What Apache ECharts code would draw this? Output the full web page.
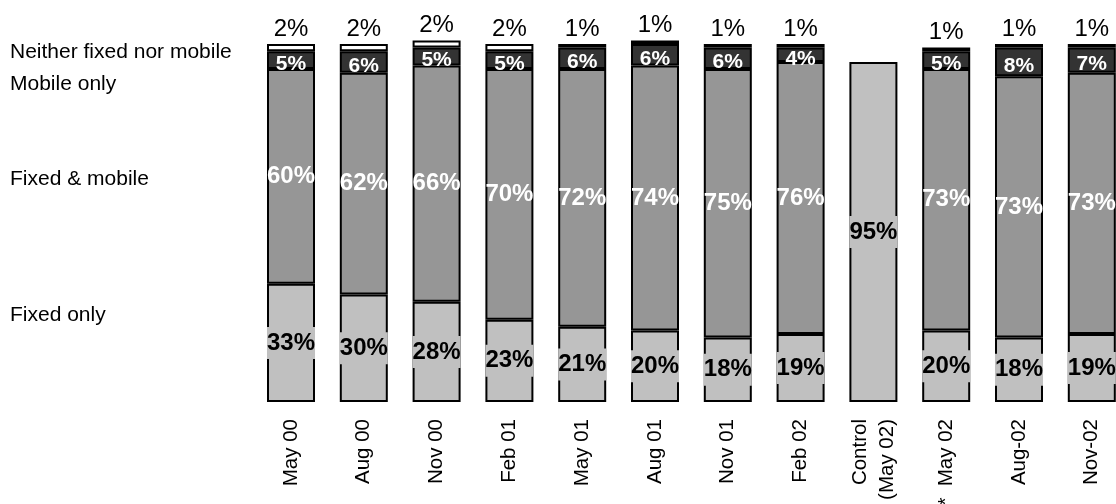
<!DOCTYPE html>
<html>
<head>
<meta charset="utf-8">
<script src="https://cdn.jsdelivr.net/npm/echarts@6/dist/echarts.min.js"></script>
<style>
html,body{margin:0;padding:0;background:#fff;}
#c{width:1116px;height:504px;}
</style>
</head>
<body>
<div id="c"></div>
<script>
const categories = ['May 00','Aug 00','Nov 00','Feb 01','May 01','Aug 01','Nov 01','Feb 02','Control\n(May 02)','*  May 02','Aug-02','Nov-02'];
const fixedOnly   = [33,30,28,23,21,20,18,19,95,20,18,19];
const fixedMobile = [60,62,66,70,72,74,75,76,null,73,73,73];
const mobileOnly  = [5,6,5,5,6,6,6,4,null,5,8,7];
const neither     = [2,2,2,2,1,1,1,1,null,1,1,1];
const seriesNames = ['Fixed only','Fixed & mobile','Mobile only','Neither fixed nor mobile'];

const FONT = '"Liberation Sans", Arial, Helvetica, sans-serif';
const chart = echarts.init(document.getElementById('c'), null, {renderer:'canvas'});

const border = {borderColor:'#000', borderWidth:2};
function ser(name, data, color, label){
  return {
    name: name, type:'bar', stack:'all', data: data, barWidth:48,
    itemStyle: Object.assign({color: color}, border),
    label: Object.assign({show:true, formatter:'{c}%', fontFamily: FONT}, label),
    emphasis:{disabled:true}, animation:false
  };
}

const legendY = [315, 179, 84, 52];

chart.setOption({
  animation:false,
  grid:{left:254.6, width:873.6, top:8.2, bottom:102, containLabel:false, outerBoundsMode:'none'},
  xAxis:{
    type:'category', data: categories,
    axisLine:{show:false}, axisTick:{show:false},
    axisLabel:{rotate:90, margin:17, fontSize:20.5, lineHeight:27, color:'#000', fontFamily: FONT, interval:0}
  },
  yAxis:{type:'value', min:0, max:110, show:false},
  graphic: seriesNames.map((n,i)=>({
    type:'text', x:10, y:legendY[i],
    style:{text:n, fontSize:21, fontFamily:FONT, fill:'#000', verticalAlign:'middle'}
  })),
  series:[
    ser(seriesNames[0], fixedOnly, '#c0c0c0', {position:'inside', color:'#000', fontWeight:'bold', fontSize:24, backgroundColor:'#c0c0c0', padding:[4,0,3,0], lineHeight:25}),
    ser(seriesNames[1], fixedMobile, '#969696', {position:'inside', color:'#fff', fontWeight:'bold', fontSize:24}),
    ser(seriesNames[2], mobileOnly, '#333333', {position:'inside', color:'#fff', fontWeight:'bold', fontSize:21, offset:[0,4]}),
    ser(seriesNames[3], neither, '#ffffff', {position:'top', distance:3, color:'#000', fontSize:24})
  ]
});
</script>
</body>
</html>
